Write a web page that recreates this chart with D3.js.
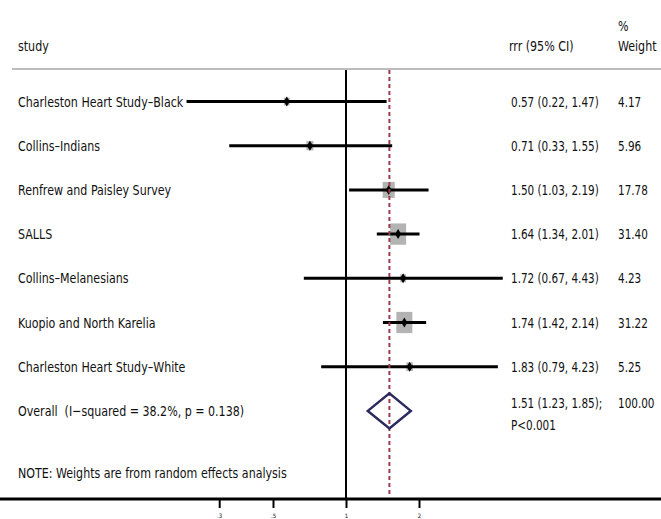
<!DOCTYPE html>
<html>
<head>
<meta charset="utf-8">
<script src="https://cdn.jsdelivr.net/npm/d3@7"></script>
<style>
  html, body { margin: 0; padding: 0; background: #fff; }
  svg { display: block; }
  text { font-family: "DejaVu Sans Condensed", "Liberation Sans", sans-serif; fill: #111; white-space: pre; }
</style>
</head>
<body>
<svg id="chart" width="661" height="519"></svg>
<script>
// ---- data ----
const studies = ["Charleston Heart Study\u2013Black", "Collins\u2013Indians", "Renfrew and Paisley Survey", "SALLS",
                 "Collins\u2013Melanesians", "Kuopio and North Karelia", "Charleston Heart Study\u2013White"];
const rrr     = [0.57, 0.71, 1.50, 1.64, 1.72, 1.74, 1.83];
const lower   = [0.22, 0.33, 1.03, 1.34, 0.67, 1.42, 0.79];
const upper   = [1.47, 1.55, 2.19, 2.01, 4.43, 2.14, 4.23];
const weights = [4.17, 5.96, 17.78, 31.40, 4.23, 31.22, 5.25];
const overallLabel = "Overall  (I\u2212squared = 38.2%, p = 0.138)";
const overallEst = [1.51, 1.23, 1.85];
const overallText = ["1.51 (1.23, 1.85);", "P<0.001"];
const overallWeight = "100.00";
const tickValues = [0.3, 0.5, 1, 2];
const tickLabels = [".3", ".5", "1", "2"];
const note = "NOTE: Weights are from random effects analysis";

// ---- layout ----
const W = 661;
const svg = d3.select("#chart");
const x = d3.scaleLog().domain([0.3, 2]).range([219.2, 419]);
const y = d3.scaleLinear().domain([0, 1]).range([101.5, 145.7]);
const axisY = 499, topY = 69;
const fmt = d3.format(".2f");
const FS = 14.5, KX = 0.85, KN = 0.8;

function txt(parent, px, py, s, k) {
  return parent.append("text")
    .attr("transform", `translate(${px},${py}) scale(${k},1)`)
    .attr("font-size", FS).text(s);
}

// header
txt(svg, 18, 51, "study", KX);
txt(svg, 509, 51, "rrr (95% CI)", KX);
txt(svg, 618, 31, "%", KX);
txt(svg, 618, 51, "Weight", KX);
svg.append("line").attr("x1", 12).attr("x2", W).attr("y1", topY).attr("y2", topY)
  .attr("stroke", "#bdbdbd").attr("stroke-width", 2);

// null line
svg.append("line").attr("x1", x(1)).attr("x2", x(1)).attr("y1", topY + 1).attr("y2", axisY)
  .attr("stroke", "#000").attr("stroke-width", 2);

// rows
const rows = studies.map((s, i) => ({ s, est: rrr[i], lo: lower[i], hi: upper[i], w: weights[i], i }));
const g = svg.append("g");
rows.forEach(d => {
  const cy = y(d.i);
  const bw = 2.86 * Math.sqrt(d.w), bh = bw * 1.33;
  g.append("rect").attr("x", x(d.est) - bw / 2).attr("y", cy - bh / 2).attr("width", bw).attr("height", bh)
    .attr("fill", "#b3b3b3");
  g.append("line").attr("x1", x(d.lo)).attr("x2", x(d.hi)).attr("y1", cy).attr("y2", cy)
    .attr("stroke", "#000").attr("stroke-width", 3);
  const px = x(d.est);
  g.append("path").attr("d", `M${px},${cy - 5}L${px + 3},${cy}L${px},${cy + 5}L${px - 3},${cy}Z`).attr("fill", "#000");
  txt(g, 18, cy + 5, d.s, KX);
  txt(g, 511, cy + 5, `${fmt(d.est)} (${fmt(d.lo)}, ${fmt(d.hi)})`, KN);
  txt(g, 618, cy + 5, fmt(d.w), KN);
});

// pooled dashed line
svg.append("line").attr("x1", x(overallEst[0])).attr("x2", x(overallEst[0])).attr("y1", topY + 1).attr("y2", axisY - 2)
  .attr("stroke", "#9e3b4d").attr("stroke-width", 2).attr("stroke-dasharray", "4,3");

// overall diamond
const oy = y(7);
svg.append("path")
  .attr("d", `M${x(overallEst[1])},${oy}L${x(overallEst[0])},${oy - 17.5}L${x(overallEst[2])},${oy}L${x(overallEst[0])},${oy + 17.5}Z`)
  .attr("fill", "none").attr("stroke", "#2b2a5e").attr("stroke-width", 2.5);
txt(svg, 18, oy + 5, overallLabel, KX);
txt(svg, 511, oy - 3, overallText[0], KN);
txt(svg, 511, oy + 19, overallText[1], KN);
txt(svg, 618, oy - 3, overallWeight, KN);

// note
txt(svg, 18, y(8.4) + 5, note, KX);

// axis
svg.append("line").attr("x1", 0).attr("x2", W).attr("y1", axisY).attr("y2", axisY)
  .attr("stroke", "#000").attr("stroke-width", 3);
const axis = d3.axisBottom(x).tickValues(tickValues).tickFormat((d, i) => tickLabels[i]).tickSize(9).tickSizeOuter(0);
const ax = svg.append("g").attr("transform", `translate(0,${axisY})`).call(axis);
ax.select(".domain").remove();
ax.selectAll(".tick line").attr("stroke", "#000").attr("stroke-width", 2);
ax.selectAll(".tick text").attr("font-size", 6).attr("font-family", "'DejaVu Sans Condensed', sans-serif")
  .attr("fill", "#111").attr("dy", "1.1em");
</script>
</body>
</html>
